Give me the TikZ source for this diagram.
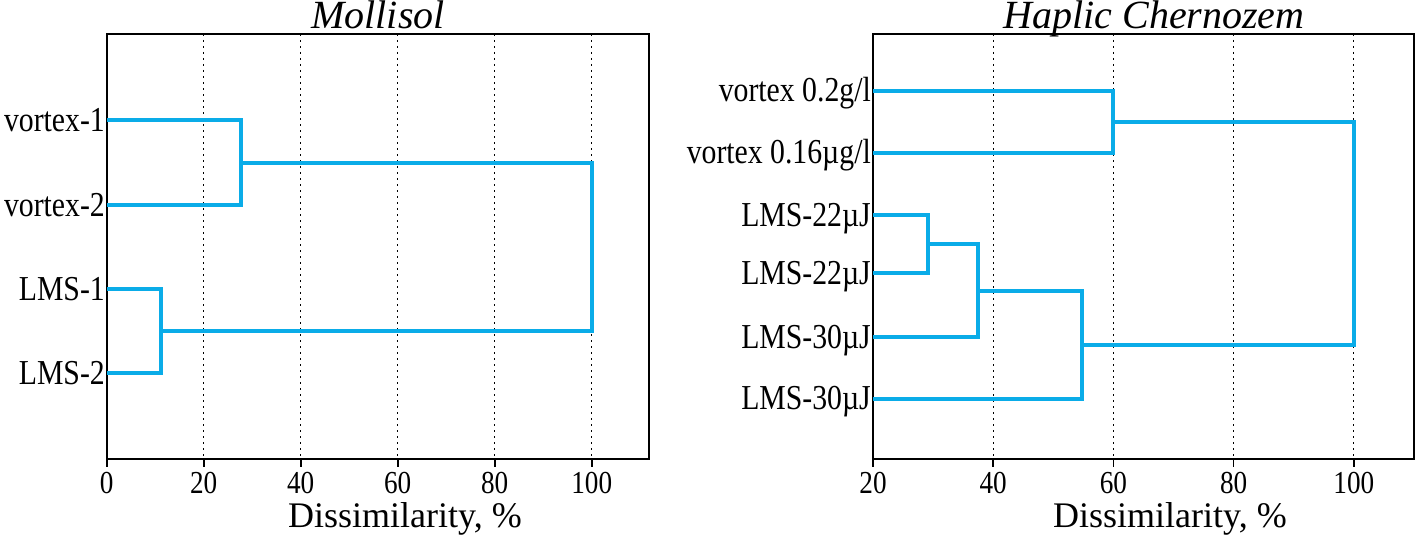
\documentclass[tikz,border=0pt]{standalone}
\usepackage{fontspec}
\setmainfont{Liberation Serif}
\newfontfamily\labfont{Liberation Serif}[FakeStretch=0.85]
\usepackage{tikz}
\definecolor{dendro}{RGB}{10,172,232}

\begin{document}
\begin{tikzpicture}[x=1pt, y=-1pt,
    link/.style={line width=4pt, color=dendro},
    frame/.style={line width=2pt},
    grid/.style={line width=1.2pt, dash pattern=on 1.6pt off 4.4pt},
    tick/.style={line width=1.6pt},
    leaf/.style={anchor=base east, inner sep=0pt, font=\labfont\fontsize{35}{40}\selectfont},
    ticklab/.style={anchor=base, inner sep=0pt, font=\labfont\fontsize{32}{36}\selectfont},
    axlab/.style={anchor=base, inner sep=0pt, font=\fontsize{36}{40}\selectfont},
    title/.style={anchor=base, inner sep=0pt, font=\itshape\fontsize{40}{44}\selectfont}]
  \useasboundingbox (0,0) rectangle (1418,535);

  %% 1. Mollisol: grid, frame, axis
  \foreach \v in {20,40,...,100}
    \draw[grid] ({106.7+4.85*\v},34) -- ({106.7+4.85*\v},459);
  \draw[frame] (107,34) rectangle (649,459);
  \foreach \v in {0,20,...,100} {
    \draw[tick] ({106.7+4.85*\v},459) -- ({106.7+4.85*\v},467);
    \node[ticklab] (mt\v) at ({106.7+4.85*\v},493) {\v};
  }
  \node[axlab] (mxlab) at (405,527) {Dissimilarity, \%};
  \node[title] (mtitle) at (378,29) {Mollisol};

  %% 2. Mollisol: leaves and merges
  \coordinate (ml1) at (107,120);
  \coordinate (ml2) at (107,205);
  \coordinate (ml3) at (107,289);
  \coordinate (ml4) at (107,373);
  \node[leaf] (mn1) at (105,131) {vortex-1};
  \node[leaf] (mn2) at (105,216) {vortex-2};
  \node[leaf] (mn3) at (105,300) {LMS-1};
  \node[leaf] (mn4) at (105,384) {LMS-2};
  \coordinate (mA) at (240.6,162.5);
  \coordinate (mB) at (161,331);
  \coordinate (mR) at (591.7,246.75);
  \draw[link] (ml1) -| (mA) |- (ml2);
  \draw[link] (ml3) -| (mB) |- (ml4);
  \draw[link] (mA) -| (mR) |- (mB);

  %% 3. Haplic Chernozem: grid, frame, axis
  \foreach \v in {40,60,...,100}
    \draw[grid] ({873+6.01*(\v-20)},34) -- ({873+6.01*(\v-20)},459);
  \draw[frame] (873,34) rectangle (1414,459);
  \foreach \v in {20,40,...,100} {
    \draw[tick] ({873+6.01*(\v-20)},459) -- ({873+6.01*(\v-20)},467);
    \node[ticklab] (ht\v) at ({873+6.01*(\v-20)},493) {\v};
  }
  \node[axlab] (hxlab) at (1170,527) {Dissimilarity, \%};
  \node[title] (htitle) at (1154,29) {Haplic Chernozem};

  %% 4. Haplic Chernozem: leaves and merges
  \coordinate (hl1) at (873,90.5);
  \coordinate (hl2) at (873,152.5);
  \coordinate (hl3) at (873,215);
  \coordinate (hl4) at (873,273);
  \coordinate (hl5) at (873,337);
  \coordinate (hl6) at (873,398.5);
  \node[leaf] (hn1) at (871,101.5) {vortex 0.2g/l};
  \node[leaf] (hn2) at (871,163.5) {vortex 0.16µg/l};
  \node[leaf] (hn3) at (871,226) {LMS-22µJ};
  \node[leaf] (hn4) at (871,284) {LMS-22µJ};
  \node[leaf] (hn5) at (871,348) {LMS-30µJ};
  \node[leaf] (hn6) at (871,409.5) {LMS-30µJ};
  \coordinate (hV) at (1113.4,121.5);
  \coordinate (hL1) at (928.3,244);
  \coordinate (hL2) at (978.2,290.5);
  \coordinate (hL3) at (1081.5,344.5);
  \coordinate (hR) at (1353.8,233);
  \draw[link] (hl1) -| (hV) |- (hl2);
  \draw[link] (hl3) -| (hL1) |- (hl4);
  \draw[link] (hL1) -| (hL2) |- (hl5);
  \draw[link] (hL2) -| (hL3) |- (hl6);
  \draw[link] (hV) -| (hR) |- (hL3);
\end{tikzpicture}
\end{document}
